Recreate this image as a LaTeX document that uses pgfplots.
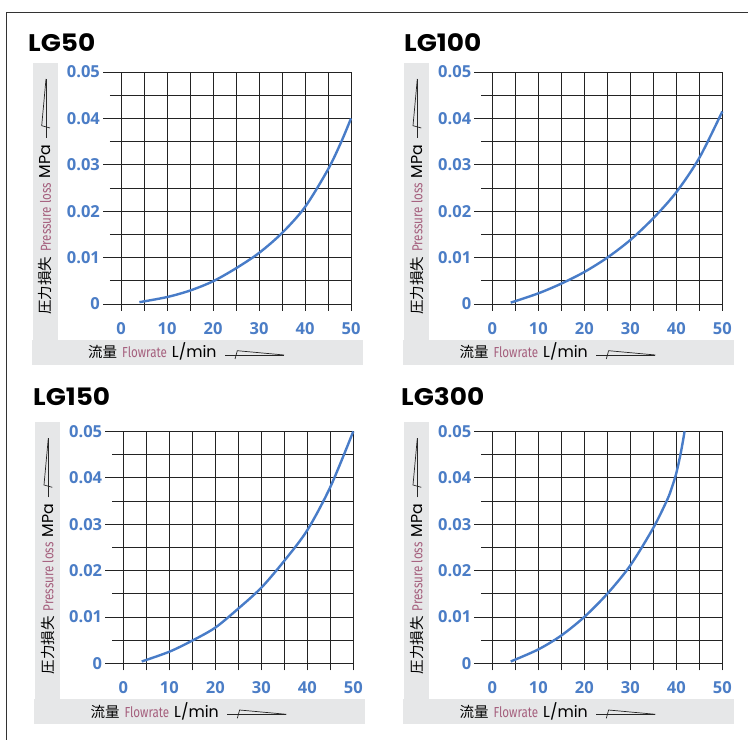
\documentclass[border=0pt]{standalone}
\usepackage{fontspec}
\usepackage{graphicx}
\usepackage{pgfplots}
\pgfplotsset{compat=1.18}
\setmainfont{Open Sans}
\newfontfamily\cjk{Noto Sans CJK JP}
\newfontfamily\poppins{Poppins}
\newfontfamily\firasans{Fira Sans}
\definecolor{tickblue}{RGB}{75,125,198}
\definecolor{curveblue}{RGB}{72,124,200}
\definecolor{mauve}{RGB}{165,95,125}
\definecolor{bandgray}{RGB}{230,231,232}
\definecolor{gridc}{RGB}{35,35,35}

\newcommand{\panel}[6]{%
  \fill[bandgray] (#1-88, 740-#2-36) rectangle (#1-63, 740-#2+241);
  \fill[bandgray] (#1-89, 740-#2-61) rectangle (#1+242, 740-#2-36);
  \node[anchor=base west, inner sep=0] at (#4, 740-#5) {\scalebox{1.1}[1]{\fontsize{24bp}{24bp}\selectfont\poppins\bfseries #3}};
  \node[rotate=90, anchor=west, inner sep=0] at (#1-75.5, 740-#2-11) {\fontsize{14.5bp}{16bp}\selectfont {\cjk 圧力損失}\hspace{5bp}{\color{mauve}\scalebox{0.8}[1]{\firasans Pressure loss}}\hspace{5bp}{\fontsize{15.8bp}{16bp}\selectfont\poppins MPa}};
  \node[anchor=base west, inner sep=0] at (#1-33, 740-#2-54) {\fontsize{14.5bp}{16bp}\selectfont {\cjk 流量}\hspace{5bp}{\color{mauve}\scalebox{0.8}[1]{\firasans Flowrate}}\hspace{5bp}{\fontsize{15.8bp}{16bp}\selectfont\poppins L/min}};
  \draw[line width=0.7bp, black!85] (#1+104, 740-#2-51) -- (#1+163, 740-#2-51);
  \draw[line width=0.7bp, black!85] (#1+114, 740-#2-55) -- (#1+116.3, 740-#2-46.7) -- (#1+163, 740-#2-51);
  \draw[line width=0.7bp, black!85] (#1-75, 740-#2+166) -- (#1-75, 740-#2+225);
  \draw[line width=0.7bp, black!85] (#1-71, 740-#2+176) -- (#1-79.3, 740-#2+178.3) -- (#1-75, 740-#2+225);
  \begin{axis}[
    at={(#1bp-11.04bp, 740bp-#2bp-7bp)}, anchor=south west,
    scale only axis, width=241.04bp, height=238.96bp,
    xmin=-2.4, xmax=50, ymin=-0.0015, ymax=0.05,
    scaled x ticks=false, scaled y ticks=false,
    axis line style={draw=none},
    xtick={0,10,20,30,40,50}, minor xtick={5,15,25,35,45},
    xticklabels={0,10,20,30,40,50},
    ytick={0,0.01,0.02,0.03,0.04,0.05},
    minor ytick={0.005,0.015,0.025,0.035,0.045},
    yticklabels={0,0.01,0.02,0.03,0.04,0.05},
    grid=both,
    major grid style={gridc, line width=0.8bp},
    minor grid style={gridc, line width=0.8bp},
    xtick style={draw=none},
    ytick style={gridc, line width=0.8bp},
    minor tick style={draw=none},
    tick align=outside, major tick length=6.9bp, minor tick length=0pt,
    ytick pos=left, xtick pos=bottom,
    xticklabel style={font=\fontsize{16.5bp}{16.5bp}\selectfont\bfseries, text=tickblue, anchor=north, inner sep=0pt, yshift=-4bp},
    yticklabel style={font=\fontsize{16.5bp}{16.5bp}\selectfont\bfseries, text=tickblue, anchor=east, inner sep=0pt, xshift=-3bp},
    clip=false,
  ]
  \addplot[curveblue, line width=2.4bp, smooth] coordinates {#6};
  \end{axis}
}

\begin{document}
\begin{tikzpicture}[x=1bp, y=1bp]
\useasboundingbox (0,0) rectangle (748,740);
\fill[white] (0,0) rectangle (748,740);
\draw[line width=1bp, black!80] (6.7,0) -- (6.7,727.7) -- (748,727.7);
\panel{121}{304}{LG50}{28}{52}{(4,0.0004) (10,0.0015) (15,0.0029) (20,0.0049) (25,0.0077) (30,0.011) (35,0.0153) (40,0.0209) (45,0.0290) (47.9,0.0350) (50,0.040)}
\panel{492.3}{304}{LG100}{404}{52}{(4,0.0003) (10,0.0023) (15,0.0044) (20,0.0069) (25,0.0100) (30,0.0138) (35,0.0185) (40,0.0241) (45,0.0315) (50,0.0415)}
\panel{123.3}{663.3}{LG150}{33}{406}{(4,0.0004) (10,0.0025) (15,0.0049) (20,0.0077) (25,0.0118) (30,0.0163) (35,0.0221) (40,0.0287) (45,0.0380) (50,0.05)}
\panel{492.3}{663.3}{LG300}{401}{406}{(4,0.0004) (10,0.003) (15,0.006) (20,0.010) (25,0.0150) (30,0.0211) (35,0.0292) (38,0.0352) (39,0.0378) (40,0.0410) (41,0.0455) (41.8,0.05)}
\end{tikzpicture}
\end{document}
